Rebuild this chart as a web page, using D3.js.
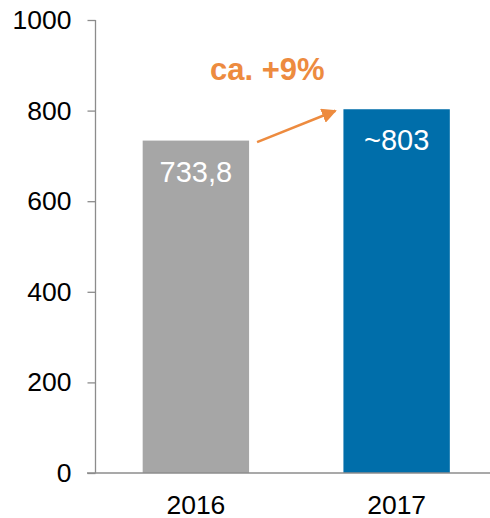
<!DOCTYPE html>
<html>
<head>
<meta charset="utf-8">
<script src="https://cdn.jsdelivr.net/npm/d3@7"></script>
<style>
  body { margin: 0; background: #fff; }
  svg { display: block; font-family: "Liberation Sans", Arial, sans-serif; }
</style>
</head>
<body>
<svg id="chart"></svg>
<script>
const WIDTH = 490;
const HEIGHT = 518;

// data
const years = ["2016", "2017"];
const values = [733.8, 803];
const valueLabels = ["733,8", "~803"];
const barColors = ["#a6a6a6", "#006eaa"];
const yTicks = [0, 200, 400, 600, 800, 1000];
const growthLabel = "ca. +9%";

const AXIS_X = 95.5;
const ORANGE = "#ed8b3f";

function main(){
    var svg = d3.select("#chart")
        .attr("width", WIDTH)
        .attr("height", HEIGHT);

    var x = d3.scaleBand()
        .domain(years)
        .range([AXIS_X, 497])
        .paddingInner(0.47)
        .paddingOuter(0.235);

    var y = d3.scaleLinear()
        .domain([0, 1000])
        .range([473, 20]);

    // bars
    svg.selectAll("rect.bar")
        .data(years)
        .enter()
        .append("rect")
        .attr("class", "bar")
        .attr("x", d => x(d))
        .attr("width", x.bandwidth())
        .attr("y", (d, i) => y(values[i]))
        .attr("height", (d, i) => y(0) - y(values[i]))
        .attr("fill", (d, i) => barColors[i]);

    // value labels inside bars
    svg.selectAll("text.val")
        .data(years)
        .enter()
        .append("text")
        .attr("class", "val")
        .attr("x", d => x(d) + x.bandwidth() / 2)
        .attr("y", (d, i) => y(values[i]) + 41)
        .attr("text-anchor", "middle")
        .attr("fill", "#fff")
        .attr("font-size", 29)
        .text((d, i) => valueLabels[i]);

    // y axis
    var yAxis = svg.append("g")
        .attr("transform", "translate(" + AXIS_X + ",0)")
        .call(d3.axisLeft(y).tickValues(yTicks).tickSize(8).tickPadding(16).tickFormat(d3.format("d")));
    yAxis.selectAll("line, path").attr("stroke", "#8c8c8c").attr("stroke-width", 1.3);
    yAxis.select(".domain").attr("d", "M0," + y(1000) + "V" + y(0));
    yAxis.selectAll("text")
        .attr("font-size", 26.5)
        .attr("font-family", "Liberation Sans, Arial, sans-serif")
        .attr("fill", "#000");

    // x axis
    var xAxis = svg.append("g")
        .attr("transform", "translate(0," + y(0) + ")")
        .call(d3.axisBottom(x).tickSize(0).tickPadding(22));
    xAxis.select(".domain")
        .attr("d", "M87,0H" + WIDTH)
        .attr("stroke", "#8c8c8c")
        .attr("stroke-width", 1.3);
    xAxis.selectAll("text")
        .attr("font-size", 26.5)
        .attr("font-family", "Liberation Sans, Arial, sans-serif")
        .attr("fill", "#000");

    // growth arrow
    svg.append("defs").append("marker")
        .attr("id", "head")
        .attr("viewBox", "0 0 10 10")
        .attr("refX", 9)
        .attr("refY", 5)
        .attr("markerWidth", 6)
        .attr("markerHeight", 6)
        .attr("markerUnits", "strokeWidth")
        .attr("orient", "auto")
        .append("path")
        .attr("d", "M0,0L10,5L0,10Z")
        .attr("fill", ORANGE);

    var x0 = x(years[0]) + x.bandwidth() + 8;
    var y0 = y(values[0]) + 1.5;
    var x1 = x(years[1]) - 8;
    var y1 = y(values[1]) + 1.5;
    svg.append("line")
        .attr("x1", x0).attr("y1", y0)
        .attr("x2", x1).attr("y2", y1)
        .attr("stroke", ORANGE)
        .attr("stroke-width", 2.5)
        .attr("marker-end", "url(#head)");

    svg.append("text")
        .attr("x", (x0 + x1) / 2 - 29)
        .attr("y", 80)
        .attr("text-anchor", "middle")
        .attr("fill", ORANGE)
        .attr("font-size", 31)
        .attr("font-weight", "bold")
        .text(growthLabel);
}

main();
</script>
</body>
</html>
